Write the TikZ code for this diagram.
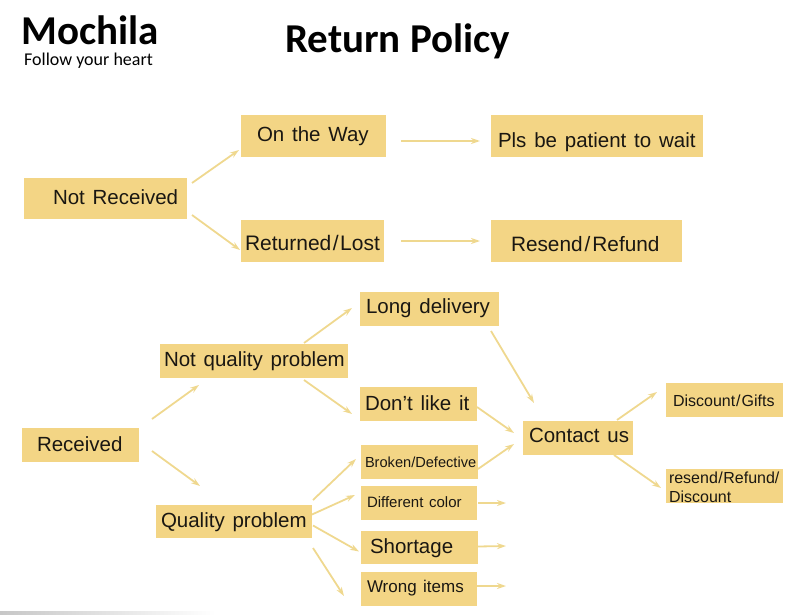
\documentclass[tikz,border=0pt]{standalone}
\usepackage{fontspec}
\setmainfont{Liberation Sans}
\newfontfamily\titlefont{Carlito}
\usetikzlibrary{arrows.meta,calc}
\definecolor{boxfill}{HTML}{F3D585}
\definecolor{arrowc}{HTML}{EFD88F}
\definecolor{inkc}{HTML}{1A1712}
\tikzset{
  boxn/.style={fill=boxfill,inner sep=0pt,outer sep=0pt,text=inkc,align=left,anchor=center},
  arr/.style={draw=arrowc,line width=1.8pt,-{Stealth[length=9pt,width=6pt]}},
  ttl/.style={inner sep=0pt,anchor=base west,text=black}
}
% name, x1, y1, x2, y2, pad, font size, text drop, text
\newcommand{\boxnode}[9]{%
  \pgfmathsetmacro{\bxw}{#4-#2}\pgfmathsetmacro{\bxh}{#5-#3}%
  \pgfmathsetmacro{\bxc}{(#2+#4)/2}\pgfmathsetmacro{\bxd}{(#3+#5)/2}%
  \node[boxn,minimum height=\bxh pt,text width=\bxw pt,font=\fontsize{#7}{19}\selectfont] (#1) at (\bxc,\bxd)
    {\spaceskip=.38em\relax\hspace*{#6pt}\strut\raisebox{-#8pt}[0pt][0pt]{#9}};}
\begin{document}
\begin{tikzpicture}[x=1pt,y=-1pt]
\useasboundingbox (0,0) rectangle (800,615);
\shade[left color=black!22,right color=white] (0,611) rectangle (215,615);
% titles
\node[ttl,font=\titlefont\bfseries\fontsize{41}{46}\selectfont] (brand) at (21,45) {Mochila};
\node[ttl,font=\titlefont\fontsize{18}{22}\selectfont] (tagline) at (24,66) {Follow your heart};
\node[ttl,font=\titlefont\bfseries\fontsize{41}{46}\selectfont] (title) at (285,53) {Return Policy};
% boxes
\boxnode{nr}{24}{178}{187}{219}{29}{20.5}{2}{Not Received}
\boxnode{otw}{241}{115}{386}{157}{16}{20.5}{2}{On the Way}
\boxnode{rl}{241}{220}{384}{262}{4}{21}{6}{Returned\kern1.5pt/\kern1.5pt Lost}
\boxnode{pls}{491}{115}{703}{157}{7}{20.5}{8}{Pls be patient to wait}
\boxnode{rr}{491}{220}{682}{262}{20}{20.8}{7}{Resend\kern2pt/\kern2pt Refund}
\boxnode{rcv}{22}{428}{139}{462}{15}{20.5}{3}{Received}
\boxnode{nq}{160}{344}{348}{378}{4}{20.5}{2}{Not quality problem}
\boxnode{qp}{156}{505}{312}{538}{5}{20.5}{2}{Quality problem}
\boxnode{ld}{360}{292}{499}{326}{6}{20.5}{1}{Long delivery}
\boxnode{dl}{360}{387}{477}{421}{5}{20.5}{3}{Don't like it}
\boxnode{bd}{361}{445}{478}{479}{4}{14.6}{2}{Broken/Defective}
\boxnode{dc}{361}{486}{477}{520}{6}{15}{1}{Different color}
\boxnode{sh}{361}{531}{478}{564}{9}{20.5}{2}{Shortage}
\boxnode{wi}{361}{572}{477}{606}{6}{17}{0}{Wrong items}
\boxnode{cu}{523}{421}{633}{455}{6}{20.5}{1}{Contact us}
\boxnode{dg}{666}{383}{783}{417}{7}{16}{3}{Discount\kern1pt/\kern1pt Gifts}
\boxnode{rd}{666}{469}{783}{503}{3}{16}{-6.5}{\parbox[t]{114pt}{resend\kern.5pt/\kern.5pt Refund/\\Discount}}
% free ends
\coordinate (dcEnd) at (506,503);
\coordinate (shEnd) at (506,546);
\coordinate (wiEnd) at (506,586);
% connectors
\draw[arr] ($(nr.north east)+(5,5)$) -- ($(otw.south west)+(-2,-7)$);
\draw[arr] ($(nr.south east)+(5,-4)$) -- ($(rl.south west)+(-1,-12)$);
\draw[arr] ($(otw.east)+(15,5)$) -- ($(pls.west)+(-11,5)$);
\draw[arr] ($(rl.east)+(17,0)$) -- ($(rr.west)+(-11,0)$);
\draw[arr] ($(rcv.north east)+(13,-9)$) -- ($(nq.south west)+(39,7)$);
\draw[arr] ($(rcv.south east)+(13,-11)$) -- ($(qp.north west)+(44,-19)$);
\draw[arr] ($(nq.north east)+(-44,-1)$) -- ($(ld.west)+(-8,-1)$);
\draw[arr] ($(nq.south east)+(-44,2)$) -- ($(dl.west)+(-8,10)$);
\draw[arr] ($(ld.south east)+(-8,5)$) -- ($(cu.north west)+(11,-18)$);
\draw[arr] ($(dl.east)+(0,3)$) -- ($(cu.west)+(-9,-5)$);
\draw[arr] ($(bd.east)+(0,7)$) -- ($(cu.west)+(-9,6)$);
\draw[arr] ($(qp.north east)+(1,-5)$) -- ($(bd.west)+(-5,-3)$);
\draw[arr] ($(qp.east)+(0,-7)$) -- ($(dc.west)+(-6,-8)$);
\draw[arr] ($(qp.east)+(1,4)$) -- ($(sh.west)+(-2,4)$);
\draw[arr] ($(qp.south east)+(1,10)$) -- ($(wi.west)+(-17,7)$);
\draw[arr] ($(dc.east)+(1,0)$) -- (dcEnd);
\draw[arr] ($(sh.east)+(0,-1)$) -- (shEnd);
\draw[arr] ($(wi.east)+(0,-3)$) -- (wiEnd);
\draw[arr] ($(cu.north east)+(-16,-1)$) -- ($(dg.west)+(-9,-8)$);
\draw[arr] ($(cu.south east)+(-19,0)$) -- ($(rd.north west)+(-5,19)$);
\end{tikzpicture}
\end{document}
